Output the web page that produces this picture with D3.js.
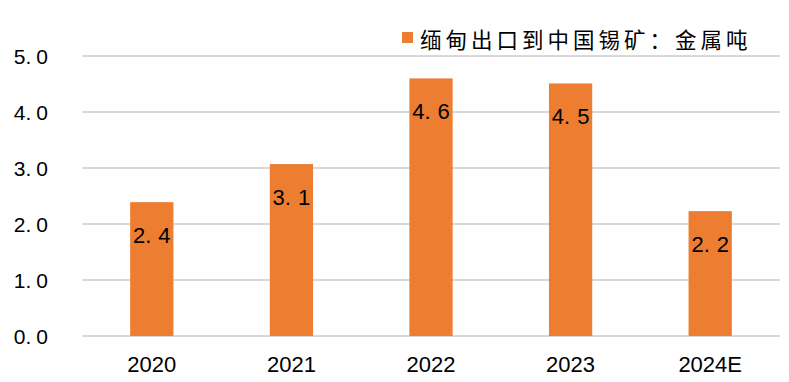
<!DOCTYPE html>
<html>
<head>
<meta charset="utf-8">
<script src="https://cdn.jsdelivr.net/npm/d3@7"></script>
<style>
  body { margin: 0; background: #fff; }
  svg { display: block; }
  .num { font-family: "Liberation Sans", Arial, sans-serif; fill: #000; }
</style>
</head>
<body>
<div id="chart"></div>
<script>
// data
const years = ["2020", "2021", "2022", "2023", "2024E"];
const tinExports = [2.39, 3.07, 4.6, 4.51, 2.23];
const yTicks = [0, 1, 2, 3, 4, 5];
const seriesName = "缅甸出口到中国锡矿：金属吨";

const width = 789, height = 382;
const plotLeft = 82, plotRight = 780, plotTop = 56, plotBottom = 336;
const orange = "#ED7D31";
const fmt = d3.format(".1f");

const svg = d3.select("#chart").append("svg")
    .attr("width", width)
    .attr("height", height);

const x = d3.scaleBand()
    .domain(years)
    .range([plotLeft, plotRight])
    .paddingInner(0.69)
    .paddingOuter(0.345);

const y = d3.scaleLinear()
    .domain([0, 5])
    .range([plotBottom, plotTop]);

// the source font leaves a gap after the decimal point: "5. 0"
function spacedNumber(sel, gap) {
    sel.each(function(d) {
        const parts = d.split(".");
        const t = d3.select(this);
        t.append("tspan").text(parts[0] + ".");
        t.append("tspan").attr("dx", gap).text(parts[1]);
    });
}

// gridlines
svg.append("g")
    .selectAll("line")
    .data(yTicks)
    .join("line")
    .attr("x1", plotLeft)
    .attr("x2", plotRight)
    .attr("y1", d => y(d))
    .attr("y2", d => y(d))
    .attr("stroke", "#d9d9d9")
    .attr("stroke-width", 2);

// y axis labels
svg.append("g")
    .selectAll("text")
    .data(yTicks.map(fmt))
    .join("text")
    .attr("class", "num")
    .attr("x", 48)
    .attr("y", (d, i) => y(yTicks[i]))
    .attr("text-anchor", "end")
    .attr("dominant-baseline", "central")
    .style("font-size", "21px")
    .call(spacedNumber, 5);

// bars
svg.append("g")
    .selectAll("rect")
    .data(years)
    .join("rect")
    .attr("x", d => x(d))
    .attr("width", x.bandwidth())
    .attr("y", (d, i) => y(tinExports[i]))
    .attr("height", (d, i) => plotBottom - y(tinExports[i]))
    .attr("fill", orange);

// value labels inside bars
svg.append("g")
    .selectAll("text")
    .data(tinExports.map(fmt))
    .join("text")
    .attr("class", "num")
    .attr("x", (d, i) => x(years[i]) + x.bandwidth() / 2)
    .attr("y", (d, i) => y(tinExports[i]) + 33)
    .attr("text-anchor", "middle")
    .attr("dominant-baseline", "central")
    .style("font-size", "22px")
    .call(spacedNumber, 7);

// x axis labels
svg.append("g")
    .selectAll("text")
    .data(years)
    .join("text")
    .attr("class", "num")
    .attr("x", d => x(d) + x.bandwidth() / 2)
    .attr("y", 364)
    .attr("text-anchor", "middle")
    .attr("dominant-baseline", "central")
    .style("font-size", "22px")
    .text(d => d);

// legend
const legend = svg.append("g");
legend.append("rect")
    .attr("x", 402)
    .attr("y", 32)
    .attr("width", 11)
    .attr("height", 11)
    .attr("fill", orange);
legend.append("text")
    .attr("x", 420)
    .attr("y", 38.5)
    .attr("dominant-baseline", "central")
    .style("font-family", "'Noto Sans CJK SC', sans-serif")
    .style("font-size", "21.5px")
    .style("letter-spacing", "4px")
    .style("fill", "#000")
    .text(seriesName);
</script>
</body>
</html>
